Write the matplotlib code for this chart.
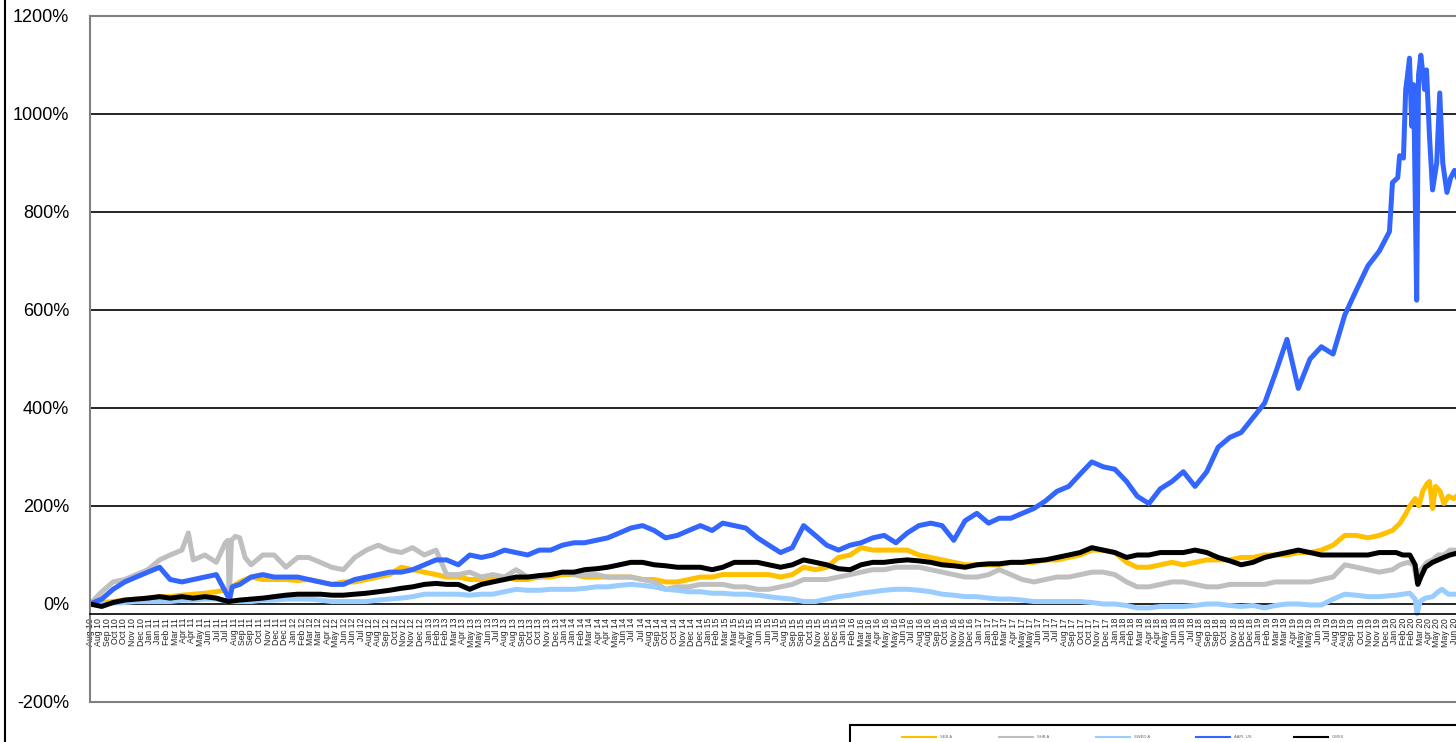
import matplotlib.pyplot as plt
import pandas as pd
from matplotlib.lines import Line2D
from matplotlib.patches import Rectangle

# monthly readings Aug 2010 - Dec 2019, then finer readings for 2020
months = pd.date_range("2010-08-01", "2019-12-01", freq="MS")

names = ["SEB A", "SHB A", "SWED A", "AAPL US", "OMXS"]
colors = ["#FFC000", "#BFBFBF", "#99CCFF", "#3366FF", "#000000"]

yellow = [0, 3, 5, 8, 10,
          12, 15, 15, 18, 20, 22, 25, 30, 45, 55, 50, 50,
          50, 48, 50, 45, 40, 45, 45, 50, 55, 60, 75, 70,
          65, 60, 55, 55, 50, 50, 50, 55, 50, 50, 55, 55,
          60, 60, 55, 55, 55, 55, 55, 50, 50, 45, 45, 50,
          55, 55, 60, 60, 60, 60, 60, 55, 60, 75, 70, 75,
          95, 100, 115, 110, 110, 110, 110, 100, 95, 90, 85, 80,
          80, 80, 80, 85, 85, 85, 90, 90, 95, 100, 110, 110,
          105, 85, 75, 75, 80, 85, 80, 85, 90, 90, 90, 95,
          95, 100, 100, 100, 105, 105, 110, 120, 140, 140, 135, 140]
gray = [0, 25, 45, 50, 60,
        70, 90, 100, 110, 90, 100, 85, 130, 135, 80, 100, 100,
        75, 95, 95, 85, 75, 70, 95, 110, 120, 110, 105, 115,
        100, 110, 60, 60, 65, 55, 60, 55, 70, 55, 55, 60,
        65, 60, 60, 60, 55, 55, 55, 50, 45, 30, 35, 35,
        40, 40, 40, 35, 35, 30, 30, 35, 40, 50, 50, 50,
        55, 60, 65, 70, 70, 75, 75, 75, 70, 65, 60, 55,
        55, 60, 70, 60, 50, 45, 50, 55, 55, 60, 65, 65,
        60, 45, 35, 35, 40, 45, 45, 40, 35, 35, 40, 40,
        40, 40, 45, 45, 45, 45, 50, 55, 80, 75, 70, 65]
light = [0, 0, 2, 3, 5,
         5, 5, 5, 8, 8, 10, 10, 5, 5, 5, 8, 8,
         10, 10, 10, 8, 5, 5, 5, 5, 8, 10, 12, 15,
         20, 20, 20, 20, 18, 20, 20, 25, 30, 28, 28, 30,
         30, 30, 32, 35, 35, 38, 40, 38, 35, 30, 28, 25,
         25, 22, 22, 20, 20, 18, 15, 12, 10, 5, 5, 10,
         15, 18, 22, 25, 28, 30, 30, 28, 25, 20, 18, 15,
         15, 12, 10, 10, 8, 5, 5, 5, 5, 5, 3, 0,
         0, -3, -8, -8, -5, -5, -5, -3, 0, 0, -3, -5,
         -3, -8, -3, 0, 0, -2, -2, 10, 20, 18, 15, 15]
blue = [0, 10, 30, 45, 55,
        65, 75, 50, 45, 50, 55, 60, 15, 40, 55, 60, 55,
        55, 55, 50, 45, 40, 40, 50, 55, 60, 65, 65, 70,
        80, 90, 90, 80, 100, 95, 100, 110, 105, 100, 110, 110,
        120, 125, 125, 130, 135, 145, 155, 160, 150, 135, 140, 150,
        160, 150, 165, 160, 155, 135, 120, 105, 115, 160, 140, 120,
        110, 120, 125, 135, 140, 125, 145, 160, 165, 160, 130, 170,
        185, 165, 175, 175, 185, 195, 210, 230, 240, 265, 290, 280,
        275, 250, 220, 205, 235, 250, 270, 240, 270, 320, 340, 350,
        380, 410, 470, 540, 440, 500, 525, 510, 590, 640, 690, 720]
black = [0, -5, 3, 8, 10,
         12, 15, 12, 15, 12, 15, 12, 5, 8, 10, 12, 15,
         18, 20, 20, 20, 18, 18, 20, 22, 25, 28, 32, 35,
         40, 42, 40, 40, 30, 40, 45, 50, 55, 55, 58, 60,
         65, 65, 70, 72, 75, 80, 85, 85, 80, 78, 75, 75,
         75, 70, 75, 85, 85, 85, 80, 75, 80, 90, 85, 80,
         72, 70, 80, 85, 85, 88, 90, 88, 85, 80, 78, 75,
         80, 82, 82, 85, 85, 88, 90, 95, 100, 105, 115, 110,
         105, 95, 100, 100, 105, 105, 105, 110, 105, 95, 88, 80,
         85, 95, 100, 105, 110, 105, 100, 100, 100, 100, 100, 105]

# short spikes between month points
gray_extra_dates = ["2011-04-18", "2011-07-25", "2011-08-04", "2011-08-10", "2011-08-20", "2011-09-15"]
gray_extra = [145, 125, 5, 130, 138, 95]
blue_extra_dates = ["2011-08-04", "2011-08-12"]
blue_extra = [5, 35]

yellow_2020_dates = ["2020-01-05", "2020-01-25", "2020-02-10", "2020-02-20", "2020-03-05", "2020-03-15",
                     "2020-03-25", "2020-04-05", "2020-04-12", "2020-04-20", "2020-04-28", "2020-05-10",
                     "2020-05-20", "2020-06-01", "2020-06-15", "2020-06-30"]
yellow_2020 = [150, 165, 185, 200, 215, 200, 230, 245, 250, 195, 240, 230, 205, 220, 215, 225]
gray_2020_dates = ["2020-01-05", "2020-01-25", "2020-02-15", "2020-03-01", "2020-03-10", "2020-03-20",
                   "2020-04-05", "2020-04-20", "2020-05-05", "2020-05-20", "2020-06-05", "2020-06-30"]
gray_2020 = [70, 80, 85, 80, 45, 70, 85, 90, 100, 100, 110, 110]
light_2020_dates = ["2020-01-15", "2020-02-01", "2020-02-20", "2020-03-05", "2020-03-10", "2020-03-18",
                    "2020-04-01", "2020-04-20", "2020-05-05", "2020-05-15", "2020-06-01", "2020-06-30"]
light_2020 = [18, 20, 22, 10, -20, 5, 12, 15, 25, 30, 20, 20]
blue_2020_dates = ["2019-12-28", "2020-01-05", "2020-01-19", "2020-01-24", "2020-02-03", "2020-02-09",
                   "2020-02-14", "2020-02-19", "2020-02-25", "2020-03-01", "2020-03-09", "2020-03-14",
                   "2020-03-20", "2020-03-30", "2020-04-04", "2020-04-12", "2020-04-20", "2020-05-01",
                   "2020-05-09", "2020-05-17", "2020-05-28", "2020-06-07", "2020-06-17", "2020-06-30"]
blue_2020 = [760, 860, 870, 915, 910, 1050, 1080, 1114, 975, 1060, 620, 1080,
             1120, 1050, 1090, 953, 845, 900, 1043, 900, 840, 870, 885, 860]
black_2020_dates = ["2020-01-15", "2020-02-01", "2020-02-20", "2020-03-05", "2020-03-12", "2020-03-20",
                    "2020-04-01", "2020-04-20", "2020-05-05", "2020-05-20", "2020-06-05", "2020-06-30"]
black_2020 = [105, 100, 100, 80, 40, 55, 75, 85, 90, 95, 100, 105]


def build(vals, late_dates, late_vals, extra_dates=(), extra_vals=()):
    s = pd.Series(vals, index=months)
    s = pd.concat([s, pd.Series(late_vals, index=pd.to_datetime(late_dates)),
                   pd.Series(list(extra_vals), index=pd.to_datetime(list(extra_dates)))])
    return s.sort_index()


series = [build(yellow, yellow_2020_dates, yellow_2020),
          build(gray, gray_2020_dates, gray_2020, gray_extra_dates, gray_extra),
          build(light, light_2020_dates, light_2020),
          build(blue, blue_2020_dates, blue_2020, blue_extra_dates, blue_extra),
          build(black, black_2020_dates, black_2020)]

yticks = [-200, 0, 200, 400, 600, 800, 1000, 1200]

W, H = 1456, 742
plt.rcParams['font.family'] = ['Liberation Sans', 'DejaVu Sans']
fig = plt.figure(figsize=(W / 100, H / 100), dpi=100)
ax = fig.add_axes([90 / W, (H - 702) / H, (W - 90) / W, (702 - 16) / H])

# spine position first: moving it later resets the tick styling
ax.spines['bottom'].set_position(('data', -20))
ax.spines['bottom'].set_color('black')
ax.spines['bottom'].set_linewidth(1.2)
ax.spines['right'].set_visible(False)
for side in ['left', 'top']:
    ax.spines[side].set_color('#808080')
    ax.spines[side].set_linewidth(1.5)

for s, c in zip(series, colors):
    ax.plot(s.index, s.values, color=c, lw=3.6, solid_joinstyle='round')

ax.set_ylim(-200, 1200)
ax.set_xlim(pd.Timestamp("2010-08-01"), pd.Timestamp("2020-06-21"))
ax.set_yticks(yticks)
ax.set_yticklabels([f"{v}%" for v in yticks], fontsize=13)
ax.tick_params(axis='y', length=0, pad=15)
ax.grid(axis='y', color='black', lw=1.2)
gl = ax.get_ygridlines()
gl[0].set_visible(False)
gl[-1].set_visible(False)
ax.set_axisbelow(True)

ticks = pd.bdate_range("2010-08-02", "2020-06-30")[::16]
ax.set_xticks(ticks)
ax.set_xticklabels([t.strftime("%b %y") for t in ticks], rotation=90, fontsize=6.3,
                   color='#222222', va='top', ha='center')
ax.tick_params(axis='x', length=0, pad=3)
ax.axhline(-200, color='#808080', lw=1.5, clip_on=False)

# outer chart border and legend box (cut off by the picture edge)
fig.add_artist(Line2D([5 / W, 5 / W], [0, 1], color='black', lw=1.5))
fig.add_artist(Rectangle((850 / W, -0.05), 0.5, (H - 725) / H + 0.05, transform=fig.transFigure,
                         fill=False, edgecolor='black', lw=1.5))
leg_x = [902, 999, 1096, 1196, 1294]
ly = (H - 737) / H
for x0, c, n in zip(leg_x, colors, names):
    fig.add_artist(Line2D([x0 / W, (x0 + 34) / W], [ly, ly], color=c, lw=1.5))
    fig.text((x0 + 38) / W, ly, n, fontsize=3, color='#666666', va='center')

fig.savefig("out.png", dpi=100)
